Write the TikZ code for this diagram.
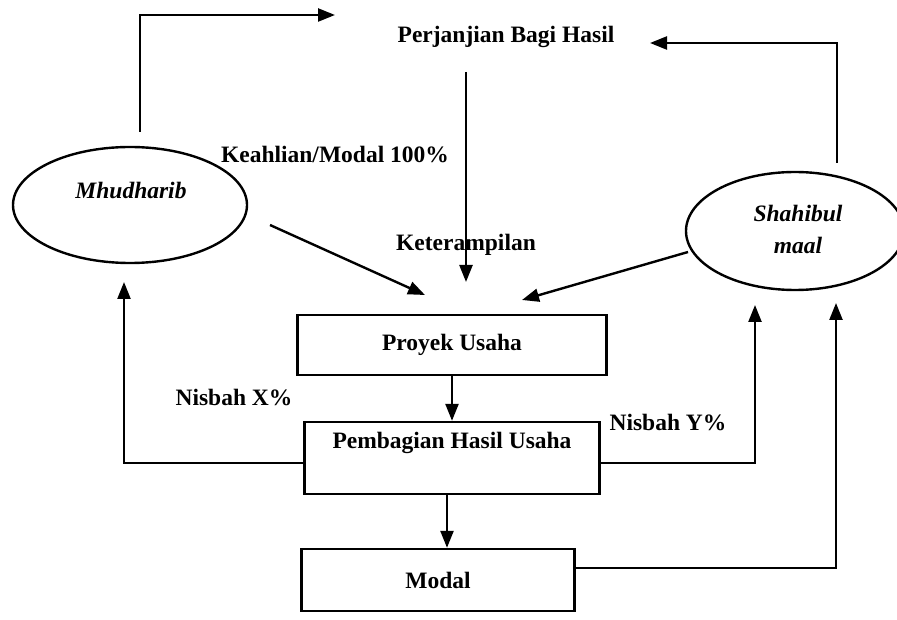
\documentclass[tikz,border=0pt]{standalone}
\usepackage{fontspec}
\setmainfont{Liberation Serif}
\usetikzlibrary{arrows.meta,shapes.geometric}
\tikzset{
  lbl/.style={font=\bfseries\fontsize{23.5}{32}\selectfont, inner sep=0pt},
  itl/.style={font=\bfseries\itshape\fontsize{23.5}{32}\selectfont},
  ell/.style={draw, line width=2.4pt, ellipse, inner sep=0pt},
  box/.style={draw, line width=2.4pt, rectangle, inner sep=0pt, font=\bfseries\fontsize{23.5}{32}\selectfont},
  arr/.style={line width=2.4pt, -{Triangle[length=17pt,width=13pt]}}
}
\begin{document}
\begin{tikzpicture}[x=1pt,y=-1pt]
\useasboundingbox (0,0) rectangle (897,620);
% ellipses
\node[ell, minimum width=234pt, minimum height=116pt] (m) at (130,205) {};
\node[lbl, itl] (mt) at (131,190) {Mhudharib};
\node[ell, minimum width=218pt, minimum height=118pt] (s) at (795,231) {};
\node[lbl, itl, align=center] (st) at (798,229) {Shahibul\\maal};
% texts
\node[lbl] (pj) at (506,37) {Perjanjian Bagi Hasil};
\node[lbl] (k1) at (335,155) {Keahlian/Modal 100\%};
\node[lbl] (k2) at (466,245) {Keterampilan};
\node[lbl] (nx) at (234,398) {Nisbah X\%};
\node[lbl] (ny) at (668,423) {Nisbah Y\%};
% boxes
\node[box, minimum width=309pt, minimum height=60pt] (pu) at (452,345) {Proyek Usaha};
\node[box, minimum width=295pt, minimum height=72pt, text height=16pt, text depth=36pt] (ph) at (452,458) {Pembagian Hasil Usaha};
\node[box, minimum width=273pt, minimum height=62pt] (md) at (438,580) {Modal};
% free ends
\coordinate (m1) at (140,132);
\coordinate (m2) at (335,15);
\coordinate (s1) at (837,163);
\coordinate (s2) at (650,43);
\coordinate (p1) at (466,72);
\coordinate (p2) at (466,282);
\coordinate (a1) at (270,225);
\coordinate (a2) at (425,295);
\coordinate (b1) at (688,252);
\coordinate (b2) at (522,300);
\coordinate (x1) at (124,282);
\coordinate (y1) at (755,305);
\coordinate (z1) at (836,303);
% connectors
\draw[arr] (m1) |- (m2);
\draw[arr] (s1) |- (s2);
\draw[arr] (p1) -- (p2);
\draw[arr] (a1) -- (a2);
\draw[arr] (b1) -- (b2);
\draw[arr] (pu.south) -- (ph.north);
\draw[arr] ([xshift=-5pt]ph.south) -- ([xshift=-5pt]ph.south |- md.north);
\draw[arr] ([yshift=-5pt]ph.west) -| (x1);
\draw[arr] ([yshift=-5pt]ph.east) -| (y1);
\draw[arr] ([yshift=12pt]md.east) -| (z1);
\end{tikzpicture}
\end{document}
